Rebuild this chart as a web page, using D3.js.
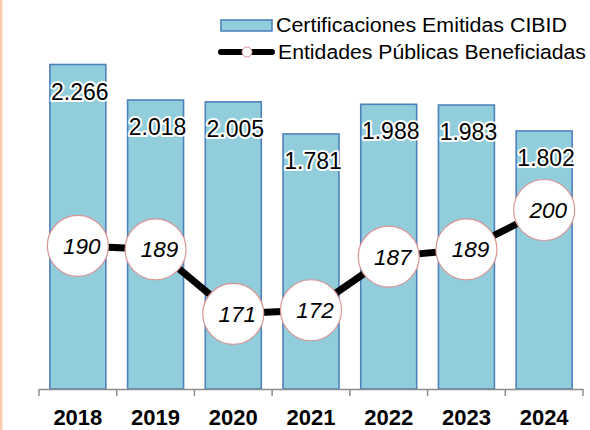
<!DOCTYPE html>
<html><head><meta charset="utf-8">
<script src="https://cdn.jsdelivr.net/npm/d3@7"></script>
<style>
html,body{margin:0;padding:0;background:#fff;}
svg{display:block;font-family:Arial,"Liberation Sans",sans-serif;}
</style></head>
<body>
<svg id="c" width="590" height="430"></svg>
<script>
const years = ["2018","2019","2020","2021","2022","2023","2024"];
const certificaciones = [2266, 2018, 2005, 1781, 1988, 1983, 1802];
const certLabels = ["2.266","2.018","2.005","1.781","1.988","1.983","1.802"];
const entidades = [190, 189, 171, 172, 187, 189, 200];
const legendLabels = ["Certificaciones Emitidas CIBID","Entidades Públicas Beneficiadas"];

(function(){
const svg = d3.select("#c");
const W = 590, H = 430;
const pl = 39, pr = 583, pt = 31, base = 389;

svg.append("rect").attr("x",0).attr("y",0).attr("width",2.5).attr("height",H).attr("fill","#F9CDB0");

const x = d3.scaleBand().domain(years).range([pl, pr]).paddingInner(0.28).paddingOuter(0.14);
const y = d3.scaleLinear().domain([0, 2500]).range([base, pt]);
const y2 = d3.scaleLinear().domain([150, 250]).range([base, pt]);

// bars
svg.append("g").selectAll("rect").data(years).join("rect")
  .attr("x", d => x(d)).attr("width", x.bandwidth())
  .attr("y", (d,i) => y(certificaciones[i]))
  .attr("height", (d,i) => base - y(certificaciones[i]))
  .attr("fill", "#92CDDC").attr("stroke", "#4F81BD").attr("stroke-width", 1.6);

// x axis
const xo = d3.scalePoint().domain(d3.range(8)).range([pl, pr]);
const ax = svg.append("g");
ax.append("line").attr("x1",pl).attr("x2",pr).attr("y1",base+0.5).attr("y2",base+0.5)
  .attr("stroke","#8c8c8c").attr("stroke-width",1.5);
ax.selectAll("line.t").data(d3.range(8)).join("line").attr("class","t")
  .attr("x1", d=>xo(d)).attr("x2", d=>xo(d)).attr("y1", base).attr("y2", base+7)
  .attr("stroke","#8c8c8c").attr("stroke-width",1.5);
ax.selectAll("text").data(years).join("text")
  .attr("x", d => x(d) + x.bandwidth()/2).attr("y", 425)
  .attr("text-anchor","middle").attr("font-weight","bold").attr("font-size",22)
  .attr("fill","#000").text(d=>d);

// bar labels with white halo
const bl = svg.append("g");
bl.selectAll("text").data(years).join("text")
  .attr("x", d => x(d) + x.bandwidth()/2 + 2)
  .attr("y", (d,i) => y(certificaciones[i]) + 35)
  .attr("text-anchor","middle").attr("font-size",23)
  .attr("stroke","#fff").attr("stroke-width",4).attr("stroke-linejoin","round")
  .attr("paint-order","stroke").attr("fill","#000")
  .text((d,i)=>certLabels[i]);

// line
const line = d3.line().x((d,i)=> x(years[i]) + x.bandwidth()/2).y(d=>y2(d));
svg.append("path").attr("d", line(entidades)).attr("fill","none")
  .attr("stroke","#000").attr("stroke-width",7);

const pts = svg.append("g").selectAll("g").data(entidades).join("g")
  .attr("transform",(d,i)=>`translate(${x(years[i]) + x.bandwidth()/2},${y2(d)})`);
pts.append("circle").attr("r",30.5).attr("fill","#fff").attr("stroke","#D99594").attr("stroke-width",1.2);
pts.append("text").attr("x",4).attr("y",8).attr("text-anchor","middle")
  .attr("font-size",22.5).attr("font-style","italic").attr("fill","#000").text(d=>d);

// legend
const lg = svg.append("g");
lg.append("rect").attr("x",221).attr("y",20).attr("width",51).attr("height",11)
  .attr("fill","#92CDDC").attr("stroke","#4F81BD").attr("stroke-width",1.6);
lg.append("line").attr("x1",221).attr("x2",272).attr("y1",52).attr("y2",52)
  .attr("stroke","#000").attr("stroke-width",6).attr("stroke-linecap","round");
lg.append("circle").attr("cx",247).attr("cy",52).attr("r",5).attr("fill","#fff")
  .attr("stroke","#D99594").attr("stroke-width",1);
lg.selectAll("text").data(legendLabels).join("text")
  .attr("x",(d,i)=>[276,278][i]).attr("y",(d,i)=>[32,59][i]).attr("font-size",20.5).attr("fill","#000")
  .attr("textLength",(d,i)=>[291,308][i]).attr("lengthAdjust","spacingAndGlyphs")
  .text(d=>d);
})();
</script>
</body></html>
